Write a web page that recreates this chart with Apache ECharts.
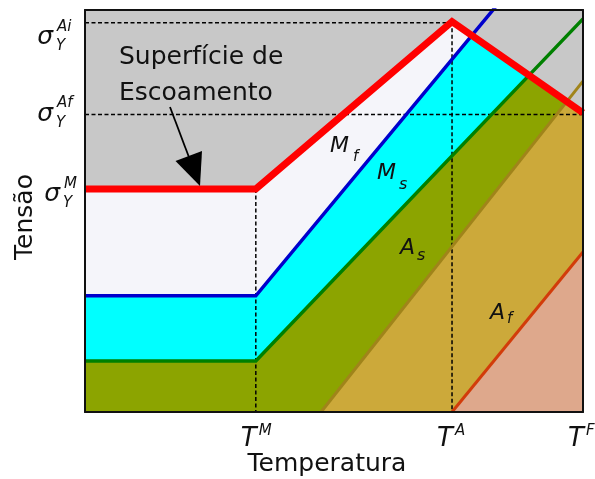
<!DOCTYPE html>
<html><head><meta charset="utf-8">
<script src="https://cdn.jsdelivr.net/npm/echarts@6/dist/echarts.min.js"></script>
<style>html,body{margin:0;padding:0;background:#fff;}#c{width:595px;height:479px;}</style>
</head><body><div id="c"></div>
<script>
// ---- Data (temperature axis 0..100, stress axis 0..100) ----
const xTickValues = [34.3, 73.7, 100];
const xTickSup = ['M', 'A', 'F'];
const yTickValues = [55.5, 74.0, 96.8];
const yTickSup = ['M', 'Af', 'Ai'];

const yieldSurface = [[0, 55.5], [34.3, 55.5], [73.7, 97.1], [100, 74.4]];   // red
const mfLine = [[0, 28.9], [34.3, 28.9], [100, 127]];                       // blue
const msLine = [[0, 12.7], [34.3, 12.7], [100, 97.8]];                      // green
const asLine = [[47.4, 0], [100, 82.3]];                                    // A_s
const afLine = [[73.7, 0], [100, 39.8]];                                    // A_f

const dashSigmaAi = [[0, 96.8], [73.7, 96.8]];
const dashSigmaAf = [[0, 74.0], [100, 74.0]];
const dashTM = [[34.3, 55.5], [34.3, 0]];
const dashTA = [[73.7, 97.1], [73.7, 0]];

const xAxisTitle = 'Temperatura';
const yAxisTitle = 'Tensão';
const surfaceText = ['Superfície de', 'Escoamento'];

// ---- Chart ----
const chart = echarts.init(document.getElementById('c'), null, {renderer: 'canvas'});
const FONT = '"DejaVu Sans", Verdana, sans-serif';

function axisCfg(pos) {
  return {
    type: 'value', min: 0, max: 100, position: pos, z: 10,
    axisLine: {show: true, onZero: false, lineStyle: {color: '#111', width: 2}},
    axisTick: {show: false}, axisLabel: {show: false}, splitLine: {show: false}
  };
}
function fill(data, color, origin, z) {
  return {type: 'line', data: data, symbol: 'none', silent: true, z: z,
    lineStyle: {opacity: 0, width: 0},
    areaStyle: {color: color, opacity: 1, origin: origin}};
}
function line(data, color, width, z, type) {
  return {type: 'line', data: data, symbol: 'none', silent: true, z: z,
    lineStyle: {color: color, width: width, type: type || 'solid', join: 'miter', cap: 'butt'}};
}

chart.setOption({
  animation: false,
  grid: {left: 85, right: 12, top: 10, bottom: 67, show: true, backgroundColor: '#f5f5fa', borderWidth: 0},
  xAxis: [axisCfg('bottom'), axisCfg('top')],
  yAxis: [axisCfg('left'), axisCfg('right')],
  series: [
    fill(mfLine, '#00ffff', 'start', 2),
    fill(msLine, '#8ca400', 'start', 2),
    fill(asLine, '#cca93a', 'start', 2),
    fill(afLine, '#dea88c', 'start', 2),
    fill(yieldSurface, '#c8c8c8', 'end', 3),
    line(dashSigmaAi, '#000', 1.5, 4, [4, 2.5]),
    line(dashSigmaAf, '#000', 1.5, 4, [4, 2.5]),
    line(dashTM, '#000', 1.5, 4, [4, 2.5]),
    line(dashTA, '#000', 1.5, 4, [4, 2.5]),
    line(mfLine, '#0000cc', 3.5, 5),
    line(msLine, '#008000', 3.5, 5),
    line(asLine, '#a0841a', 3, 5),
    line(afLine, '#d23c0a', 3, 5),
    line(yieldSurface, '#ff0000', 7, 6)
  ]
});

function txt(x, y, text, size, italic, align, extra) {
  const o = {type: 'text', x: x, y: y, z: 100, silent: true,
    style: {text: text, font: (italic ? 'italic ' : '') + size + 'px ' + FONT, fill: '#111',
      align: align || 'left', textAlign: align || 'left', verticalAlign: 'middle', textVerticalAlign: 'middle'}};
  if (extra) Object.assign(o, extra);
  return o;
}

const g = [];
// x tick labels: T^M, T^A, T^F
xTickValues.forEach(function (v, i) {
  const px = chart.convertToPixel({xAxisIndex: 0}, v);
  g.push(txt(px - 15, 439, 'T', 26, true, 'left'));
  g.push(txt(px + 3, 431, xTickSup[i], 15, true, 'left'));
});
// y tick labels: sigma_Y^...
const yLabOffset = [6, 0, 15];
const supLeft = [64, 57, 57];
yTickValues.forEach(function (v, i) {
  const py = chart.convertToPixel({yAxisIndex: 0}, v) + yLabOffset[i];
  g.push(txt(supLeft[i] - 4, py, 'σ', 25, true, 'right'));
  g.push(txt(supLeft[i], py - 11, yTickSup[i], 15, true, 'left'));
  g.push(txt(supLeft[i] - 1, py + 8.5, 'Y', 15, true, 'left'));
});
// axis titles
g.push(txt(327, 464, xAxisTitle, 25, false, 'center'));
g.push(txt(25, 217, yAxisTitle, 25, false, 'center', {rotation: Math.PI / 2}));
// yield-surface annotation
g.push(txt(119, 57, surfaceText[0], 25, false, 'left'));
g.push(txt(119, 93, surfaceText[1], 25, false, 'left'));
g.push({type: 'line', z: 100, silent: true, shape: {x1: 170, y1: 107, x2: 190, y2: 160},
  style: {stroke: '#000', lineWidth: 1.8}});
g.push({type: 'polygon', z: 100, silent: true, shape: {points: [[200, 186], [175.5, 161], [202, 151]]},
  style: {fill: '#000'}});
// region labels
g.push(txt(330, 146.5, 'M', 22, true));
g.push(txt(353, 157, 'f', 15, true));
g.push(txt(377, 173, 'M', 22, true));
g.push(txt(399, 185, 's', 16, true));
g.push(txt(400, 248, 'A', 22, true));
g.push(txt(417, 256, 's', 16, true));
g.push(txt(490, 313, 'A', 22, true));
g.push(txt(507, 319, 'f', 15, true));

chart.setOption({graphic: g});
</script>
</body></html>
